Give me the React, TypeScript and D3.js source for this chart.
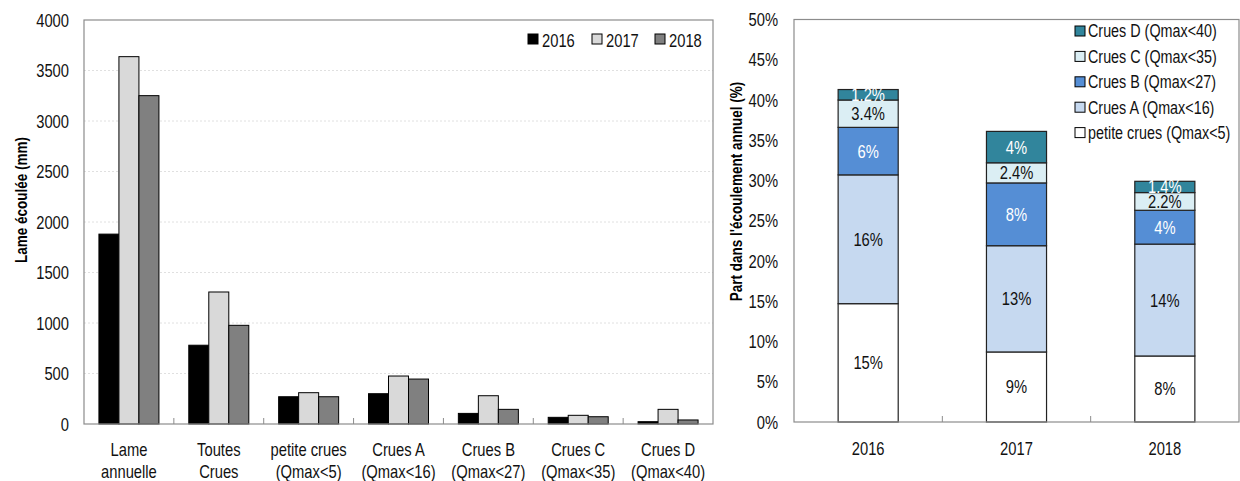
import React from "react";
import * as d3 from "d3";

const categories = [
  ["Lame", "annuelle"],
  ["Toutes", "Crues"],
  ["petite crues", "(Qmax<5)"],
  ["Crues A", "(Qmax<16)"],
  ["Crues B", "(Qmax<27)"],
  ["Crues C", "(Qmax<35)"],
  ["Crues D", "(Qmax<40)"],
];
const years = ["2016", "2017", "2018"];
const values2016 = [1880, 780, 270, 300, 105, 66, 23];
const values2017 = [3637, 1307, 310, 475, 280, 86, 145];
const values2018 = [3251, 977, 270, 445, 145, 72, 40];
const leftTicks = [0, 500, 1000, 1500, 2000, 2500, 3000, 3500, 4000];

const stackKeys = ["petite", "A", "B", "C", "D"];
const stackNames = [
  "petite crues (Qmax<5)",
  "Crues A (Qmax<16)",
  "Crues B (Qmax<27)",
  "Crues C (Qmax<35)",
  "Crues D (Qmax<40)",
];
const share2016 = [14.7, 16.0, 5.9, 3.4, 1.3];
const share2017 = [8.7, 13.2, 7.8, 2.5, 3.9];
const share2018 = [8.2, 13.9, 4.2, 2.2, 1.4];
const labels2016 = ["15%", "16%", "6%", "3.4%", "1.2%"];
const labels2017 = ["9%", "13%", "8%", "2.4%", "4%"];
const labels2018 = ["8%", "14%", "4%", "2.2%", "1.4%"];
const rightTicks = [0, 5, 10, 15, 20, 25, 30, 35, 40, 45, 50];

const FONT = "'Liberation Sans', Arial, sans-serif";
const NARROW = 0.82;
const yearColors = ["#000000", "#d9d9d9", "#808080"];
const stackColors = ["#ffffff", "#c6d9f0", "#558ed5", "#dbeef4", "#31859c"];
const stackText = ["#111", "#111", "#fff", "#111", "#fff"];

function T(props: {
  x: number;
  y: number;
  anchor?: string;
  size?: number;
  fill?: string;
  weight?: string;
  rotate?: number;
  children: React.ReactNode;
}) {
  const { x, y, anchor = "start", size = 18, fill = "#111", weight = "normal", rotate = 0 } = props;
  return (
    <g transform={`translate(${x},${y}) rotate(${rotate}) scale(${NARROW},1)`}>
      <text x={0} y={0} textAnchor={anchor as any} fontSize={size} fontWeight={weight} fill={fill}>
        {props.children}
      </text>
    </g>
  );
}

export default function App() {
  // Left chart
  const L = { x0: 84, x1: 713, y0: 20, y1: 424 };
  const yL = d3.scaleLinear().domain([0, 4000]).range([L.y1, L.y0]);
  const xL = d3.scaleBand<number>().domain(d3.range(categories.length)).range([L.x0, L.x1]).padding(0);
  const step = xL.bandwidth();
  const xSub = d3.scaleBand<string>().domain(years).range([step / 2 - 30, step / 2 + 30]).padding(0);
  const series = [values2016, values2017, values2018];

  // Right chart
  const R = { x0: 794, x1: 1239, y0: 19.5, y1: 422 };
  const yR = d3.scaleLinear().domain([0, 50]).range([R.y1, R.y0]);
  const xR = d3.scaleBand<string>().domain(years).range([R.x0, R.x1]).padding(0);
  const barW = xR.bandwidth() * 0.405;
  const shares = [share2016, share2017, share2018];
  const labs = [labels2016, labels2017, labels2018];
  const rows = years.map((y, i) => {
    const o: any = { year: y };
    stackKeys.forEach((k, j) => (o[k] = shares[i][j]));
    return o;
  });
  const stacked = d3.stack().keys(stackKeys)(rows);

  return (
    <svg width={1240} height={481} style={{ position: "absolute", left: 0, top: 0, fontFamily: FONT }}>
      <rect width={1240} height={481} fill="#fff" />
      {/* LEFT CHART */}
      {leftTicks.map((t) => (
        <g key={"lt" + t}>
          {t > 0 && t < 4000 && (
            <line x1={L.x0} x2={L.x1} y1={yL(t)} y2={yL(t)} stroke="#e0e0e0" strokeWidth={1} strokeDasharray="2,2" />
          )}
          <T x={69} y={yL(t) + 6.5} anchor="end">{t}</T>
        </g>
      ))}
      {categories.map((c, i) =>
        series.map((s, j) => (
          <rect
            key={"b" + i + "-" + j}
            x={(xL(i) as number) + (xSub(years[j]) as number)}
            y={yL(s[i])}
            width={xSub.bandwidth()}
            height={yL(0) - yL(s[i])}
            fill={yearColors[j]}
            stroke="#000"
            strokeWidth={1}
          />
        ))
      )}
      <rect x={L.x0} y={L.y0} width={L.x1 - L.x0} height={L.y1 - L.y0} fill="none" stroke="#8c8c8c" strokeWidth={1.2} />
      {d3.range(1, categories.length).map((i) => (
        <line key={"ltk" + i} x1={xL(i)} x2={xL(i)} y1={L.y1 - 6} y2={L.y1} stroke="#8c8c8c" strokeWidth={1} />
      ))}
      {categories.map((c, i) => (
        <g key={"lc" + i}>
          <T x={(xL(i) as number) + step / 2} y={456} anchor="middle">{c[0]}</T>
          <T x={(xL(i) as number) + step / 2} y={478} anchor="middle">{c[1]}</T>
        </g>
      ))}
      <T x={27} y={200} rotate={-90} anchor="middle" size={16.5} weight="bold" fill="#000">
        Lame écoulée (mm)
      </T>
      {years.map((y, j) => {
        const lx = [528, 592, 655][j];
        return (
          <g key={"lg" + y}>
            <rect x={lx} y={34} width={10} height={10} fill={yearColors[j]} stroke="#000" strokeWidth={1} />
            <T x={lx + 14} y={47}>{y}</T>
          </g>
        );
      })}

      {/* RIGHT CHART */}
      {rightTicks.map((t) => (
        <T key={"rt" + t} x={778} y={yR(t) + 6.5} anchor="end">{t}%</T>
      ))}
      {stacked.map((layer, k) =>
        layer.map((d, i) => {
          const cx = (xR(years[i]) as number) + xR.bandwidth() / 2;
          return (
            <rect
              key={"s" + k + "-" + i}
              x={cx - barW / 2}
              y={yR(d[1])}
              width={barW}
              height={yR(d[0]) - yR(d[1])}
              fill={stackColors[k]}
              stroke="#222"
              strokeWidth={1.2}
            />
          );
        })
      )}
      {stacked.map((layer, k) =>
        layer.map((d, i) => {
          const cx = (xR(years[i]) as number) + xR.bandwidth() / 2;
          return (
            <T key={"sl" + k + "-" + i} x={cx} y={(yR(d[0]) + yR(d[1])) / 2 + 6.5} anchor="middle" fill={stackText[k]}>
              {labs[i][k]}
            </T>
          );
        })
      )}
      <rect x={R.x0} y={R.y0} width={R.x1 - R.x0} height={R.y1 - R.y0} fill="none" stroke="#8c8c8c" strokeWidth={1.2} />
      {[1, 2].map((i) => (
        <line key={"rtk" + i} x1={xR(years[i]) as number} x2={xR(years[i]) as number} y1={R.y1 - 6} y2={R.y1} stroke="#8c8c8c" strokeWidth={1} />
      ))}
      {years.map((y) => (
        <T key={"rx" + y} x={(xR(y) as number) + xR.bandwidth() / 2} y={455} anchor="middle">{y}</T>
      ))}
      <T x={742} y={191.5} rotate={-90} anchor="middle" size={16.5} weight="bold" fill="#000">
        Part dans l'écoulement annuel (%)
      </T>
      {stackNames
        .map((n, k) => ({ n, k }))
        .reverse()
        .map(({ n, k }, r) => {
          const cy = 31 + r * 25.4;
          return (
            <g key={"rl" + k}>
              <rect x={1075} y={cy - 5} width={10} height={10} fill={stackColors[k]} stroke="#000" strokeWidth={1} />
              <T x={1088} y={cy + 6.3} size={17.5}>{n}</T>
            </g>
          );
        })}
    </svg>
  );
}
